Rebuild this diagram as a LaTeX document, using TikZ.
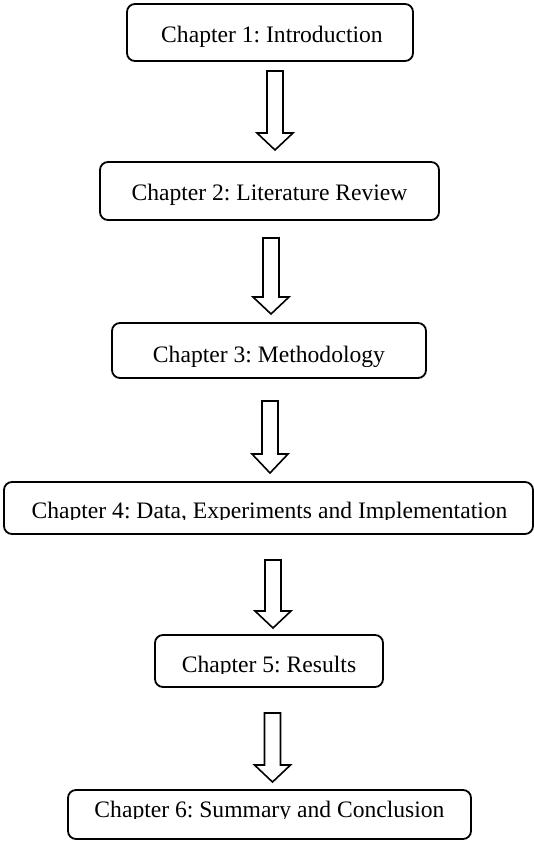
\documentclass[tikz,border=0pt]{standalone}
\usepackage{fontspec}
\setmainfont{Liberation Serif}
\frenchspacing
\newcommand\chaparrow[4]{% x, top, head base, tip
  \draw[blockarrow] (#1-8,#2) -- (#1+8,#2) -- (#1+8,#3) -- (#1+18,#3) -- (#1,#4)
    -- (#1-18,#3) -- (#1-8,#3) -- cycle;}
\begin{document}
\begin{tikzpicture}[x=1pt,y=-1pt,
  chapbox/.style={draw, line width=1.8pt, rounded corners=8pt, inner sep=0pt},
  chaptext/.style={font=\fontsize{23.6}{28}\selectfont, inner sep=0pt, anchor=base},
  blockarrow/.style={draw, line width=1.6pt, fill=white, line join=miter}]
\useasboundingbox (0,0) rectangle (534,841);

% boxes
\node[chapbox, minimum width=286pt, minimum height=57pt] (b1) at (270,32.5) {};
\node[chapbox, minimum width=339pt, minimum height=58pt] (b2) at (269.5,191) {};
\node[chapbox, minimum width=314pt, minimum height=55pt] (b3) at (269,350.5) {};
\node[chapbox, minimum width=529pt, minimum height=52pt] (b4) at (268.5,508) {};
\node[chapbox, minimum width=228pt, minimum height=52pt] (b5) at (269,661) {};
\node[chapbox, minimum width=403pt, minimum height=49pt] (b6) at (269.5,814.5) {};

% texts
\node[chaptext] (t1) at (272,42) {Chapter 1: Introduction};
\node[chaptext] (t2) at (269.5,200) {Chapter 2: Literature Review};
\begin{scope}
  \clip (0,300) rectangle (534,366);
  \node[chaptext] (t3) at (269,362) {Chapter 3: Methodology};
\end{scope}
\begin{scope}
  \clip (0,470) rectangle (534,519.5);
  \node[chaptext] (t4) at (269.5,518) {Chapter 4: Data, Experiments and Implementation};
\end{scope}
\begin{scope}
  \clip (0,640) rectangle (534,673.5);
  \node[chaptext] (t5) at (269,672) {Chapter 5: Results};
\end{scope}
\begin{scope}
  \clip (0,795) rectangle (534,818.5);
  \node[chaptext] (t6) at (269.5,817) {Chapter 6: Summary and Conclusion};
\end{scope}

% block arrows
\chaparrow{275}{71}{133}{150}
\chaparrow{271}{238}{297}{314}
\chaparrow{270}{401}{454}{473}
\chaparrow{273}{560}{611}{628}
\chaparrow{272.5}{713}{765}{782}
\end{tikzpicture}
\end{document}
